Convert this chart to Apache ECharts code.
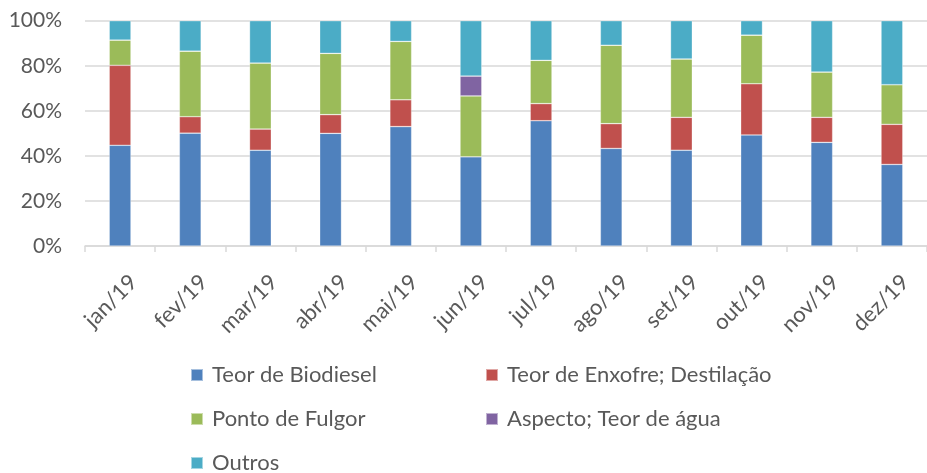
<!DOCTYPE html>
<html><head><meta charset="utf-8">
<script src="https://cdn.jsdelivr.net/npm/echarts@6/dist/echarts.min.js"></script>
<style>html,body{margin:0;padding:0;background:#fff}#c{width:927px;height:473px}</style>
</head><body><div id="c"></div>
<script>
const categories = ['jan/19','fev/19','mar/19','abr/19','mai/19','jun/19','jul/19','ago/19','set/19','out/19','nov/19','dez/19'];
const biodiesel = [44.7, 50.1, 42.5, 50.0, 53.0, 39.6, 55.6, 43.3, 42.5, 49.3, 46.0, 36.2];
const enxofre   = [35.5, 7.3, 9.4, 8.3, 11.9, 0, 7.6, 11.0, 14.6, 22.7, 11.1, 17.8];
const fulgor    = [11.2, 29.1, 29.3, 27.2, 25.9, 27.0, 19.2, 34.8, 25.9, 21.6, 20.1, 17.6];
const aspecto   = [0, 0, 0, 0, 0, 8.8, 0, 0, 0, 0, 0, 0];
const outros    = [8.6, 13.5, 18.8, 14.5, 9.2, 24.6, 17.6, 10.9, 17.0, 6.4, 22.8, 28.4];
const yTicks = [0, 20, 40, 60, 80, 100];

const names = ['Teor de Biodiesel','Teor de Enxofre; Destilação','Ponto de Fulgor','Aspecto; Teor de água','Outros'];
const colors = ['#4f81bd','#c0504d','#9bbb59','#8064a2','#4bacc6'];
const values = [biodiesel, enxofre, fulgor, aspecto, outros];

const font = 'Lato, "Open Sans", sans-serif';
const chart = echarts.init(document.getElementById('c'), null, {renderer:'canvas'});
const legendPos = [[190,375],[485,375],[190,419],[485,419],[190,463]];
const legends = names.map((n,i)=>({
  orient:'horizontal', icon:'rect', itemWidth:12, itemHeight:12, padding:0, itemGap:0,
  left:legendPos[i][0], top:legendPos[i][1]-12,
  textStyle:{fontFamily:font, fontSize:22, lineHeight:24, color:'#595959', padding:[0,0,0,4]},
  selectedMode:false, data:[n]
}));
chart.setOption({
  animation:false,
  color: colors,
  grid:{left:85, right:0, top:20.7, bottom:227, containLabel:false},
  legend:legends,
  xAxis:{
    type:'category', data:categories, boundaryGap:true,
    axisLine:{lineStyle:{color:'#d9d9d9', width:1.5}},
    axisTick:{show:true, length:6, lineStyle:{color:'#d9d9d9', width:1.5}},
    axisLabel:{rotate:45, fontFamily:font, fontSize:22, color:'#595959', margin:46, padding:[0,-19,0,0]}
  },
  yAxis:{
    type:'value', min:yTicks[0], max:yTicks[yTicks.length-1], interval:20,
    axisLine:{show:false}, axisTick:{show:false},
    splitLine:{lineStyle:{color:'#d9d9d9', width:1.5}},
    axisLabel:{formatter:v=>v+'%', fontFamily:font, fontSize:21, color:'#595959', margin:23}
  },
  series: names.map((n,i)=>({
    name:n, type:'bar', stack:'total', data:values[i], barWidth:'31%',
    itemStyle:{color:colors[i], borderColor:'rgba(255,255,255,0.5)', borderWidth:0.6}
  }))
});
</script></body></html>
